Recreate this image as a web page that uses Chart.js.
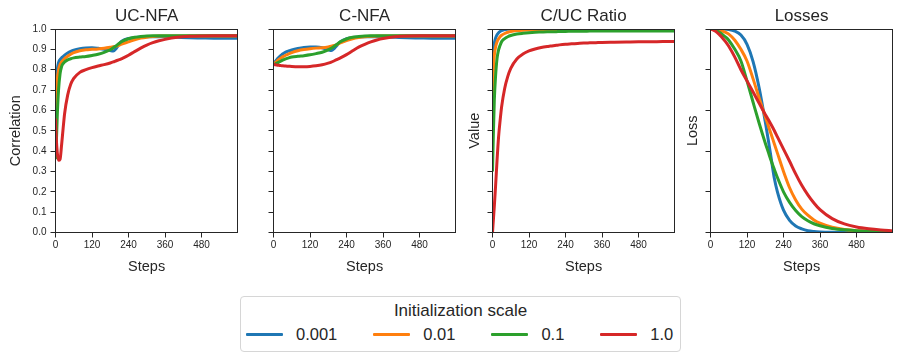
<!DOCTYPE html>
<html>
<head>
<meta charset="utf-8">
<script src="https://cdn.jsdelivr.net/npm/chart.js@4.4.1/dist/chart.umd.min.js"></script>
<style>
  body { margin: 0; background: #fff; width: 902px; height: 361px; position: relative; overflow: hidden;
         font-family: "Liberation Sans", Arial, sans-serif; color: #262626; }
  canvas { position: absolute; top: 0; }
  #legend { position: absolute; left: 240px; top: 296px; width: 441px; height: 56px; box-sizing: border-box;
            border: 1px solid #d6d6d6; border-radius: 4px; font-size: 16.5px; }
  #legend .ttl { position: absolute; left: 0; right: 0; top: 4px; text-align: center; line-height: 20px; font-size: 17px; }
  #legend .row { position: absolute; left: 5px; top: 27px; display: flex; gap: 36px; line-height: 20px; }
  #legend .item { display: flex; align-items: center; gap: 13px; }
  #legend .swatch { width: 37px; height: 3px; border-radius: 1px; }
</style>
</head>
<body>
<canvas id="c1" width="240" height="290" style="left:0px"></canvas>
<canvas id="c2" width="240" height="290" style="left:218px"></canvas>
<canvas id="c3" width="240" height="290" style="left:437px"></canvas>
<canvas id="c4" width="240" height="290" style="left:655px"></canvas>
<div id="legend"><div class="ttl">Initialization scale</div><div class="row" id="legendRow"></div></div>
<script>
// training steps (x values shared by every curve)
const steps = [0, 3, 6, 10, 15, 20, 25, 30, 40, 50, 60, 80, 100, 120, 140, 160, 180, 190, 200, 210,
  220, 240, 260, 280, 300, 320, 340, 360, 400, 440, 480, 520, 560, 599];

const scaleLabels = ['0.001', '0.01', '0.1', '1.0'];
const xTicks = [0, 120, 240, 360, 480];
const corrTicks = [0, 0.1, 0.2, 0.3, 0.4, 0.5, 0.6, 0.7, 0.8, 0.9, 1.0];
const lossTicks = [0, 0.2, 0.4, 0.6, 0.8, 1.0];

// UC-NFA correlation
const ucBlue = [0.40, 0.72, 0.80, 0.835, 0.85, 0.858, 0.865, 0.872, 0.882, 0.89, 0.896, 0.903, 0.907, 0.908, 0.905, 0.900, 0.894, 0.892, 0.905, 0.928,
  0.942, 0.953, 0.958, 0.961, 0.962, 0.962, 0.962, 0.961, 0.959, 0.957, 0.956, 0.955, 0.955, 0.955];
const ucOrange = [0.45, 0.65, 0.75, 0.80, 0.825, 0.838, 0.847, 0.855, 0.866, 0.876, 0.884, 0.893, 0.898, 0.90, 0.902, 0.905, 0.91, 0.913, 0.916, 0.921,
  0.927, 0.937, 0.947, 0.955, 0.96, 0.963, 0.965, 0.966, 0.966, 0.966, 0.966, 0.966, 0.966, 0.966];
const ucGreen = [0.36, 0.45, 0.58, 0.70, 0.78, 0.815, 0.83, 0.838, 0.848, 0.854, 0.858, 0.862, 0.865, 0.87, 0.876, 0.885, 0.898, 0.908, 0.918, 0.93,
  0.94, 0.952, 0.959, 0.963, 0.966, 0.967, 0.967, 0.967, 0.967, 0.967, 0.967, 0.967, 0.967, 0.967];
const ucRed = [0.56, 0.45, 0.39, 0.355, 0.36, 0.43, 0.51, 0.585, 0.675, 0.728, 0.757, 0.787, 0.80, 0.81, 0.818, 0.825, 0.833, 0.838, 0.844, 0.849,
  0.856, 0.871, 0.889, 0.906, 0.921, 0.933, 0.942, 0.949, 0.959, 0.964, 0.966, 0.967, 0.967, 0.967];

// C-NFA correlation
const cBlue = [0.83, 0.835, 0.84, 0.848, 0.857, 0.865, 0.871, 0.877, 0.886, 0.892, 0.897, 0.904, 0.909, 0.911, 0.911, 0.908, 0.898, 0.894, 0.905, 0.922,
  0.938, 0.952, 0.958, 0.961, 0.962, 0.962, 0.962, 0.961, 0.959, 0.957, 0.956, 0.955, 0.955, 0.955];
const cOrange = [0.83, 0.832, 0.835, 0.84, 0.847, 0.853, 0.858, 0.863, 0.871, 0.878, 0.884, 0.893, 0.899, 0.903, 0.906, 0.908, 0.912, 0.915, 0.919, 0.925,
  0.932, 0.943, 0.952, 0.958, 0.962, 0.964, 0.965, 0.966, 0.966, 0.966, 0.966, 0.966, 0.966, 0.966];
const cGreen = [0.825, 0.826, 0.828, 0.831, 0.835, 0.839, 0.843, 0.847, 0.853, 0.858, 0.862, 0.866, 0.869, 0.873, 0.879, 0.886, 0.897, 0.905, 0.915, 0.926,
  0.937, 0.951, 0.959, 0.963, 0.966, 0.967, 0.967, 0.967, 0.967, 0.967, 0.967, 0.967, 0.967, 0.967];
const cRed = [0.826, 0.825, 0.824, 0.823, 0.822, 0.821, 0.82, 0.819, 0.818, 0.817, 0.816, 0.815, 0.815, 0.816, 0.819, 0.824, 0.832, 0.837, 0.844, 0.851,
  0.858, 0.874, 0.893, 0.911, 0.925, 0.937, 0.946, 0.953, 0.962, 0.966, 0.967, 0.967, 0.967, 0.967];

// C/UC ratio
const ratioBlue = [0.80, 0.89, 0.93, 0.955, 0.972, 0.982, 0.988, 0.992, 0.997, 0.999, 1.0, 1.0, 1.0, 1.0, 1.0, 1.0, 1.0, 1.0, 1.0, 1.0,
  1.0, 1.0, 1.0, 1.0, 1.0, 1.0, 1.0, 1.0, 1.0, 1.0, 1.0, 1.0, 1.0, 1.0];
const ratioOrange = [0.60, 0.80, 0.87, 0.91, 0.937, 0.952, 0.962, 0.969, 0.978, 0.984, 0.988, 0.992, 0.994, 0.995, 0.996, 0.996, 0.996, 0.996, 0.996, 0.996,
  0.996, 0.996, 0.996, 0.996, 0.996, 0.996, 0.996, 0.996, 0.996, 0.996, 0.996, 0.996, 0.996, 0.996];
const ratioGreen = [0.30, 0.49, 0.65, 0.766, 0.856, 0.897, 0.92, 0.938, 0.953, 0.962, 0.968, 0.975, 0.979, 0.982, 0.984, 0.985, 0.986, 0.987, 0.987, 0.987,
  0.988, 0.988, 0.989, 0.989, 0.989, 0.99, 0.99, 0.99, 0.99, 0.99, 0.99, 0.99, 0.99, 0.99];
const ratioRed = [0.0, 0.065, 0.13, 0.225, 0.356, 0.47, 0.55, 0.618, 0.708, 0.766, 0.807, 0.853, 0.877, 0.892, 0.902, 0.909, 0.914, 0.916, 0.918, 0.92,
  0.922, 0.925, 0.927, 0.929, 0.931, 0.932, 0.933, 0.934, 0.935, 0.936, 0.937, 0.937, 0.938, 0.938];

// losses
const lossBlue = [1, 1, 1, 1, 1, 1, 1, 1, 1, 0.999, 0.998, 0.99, 0.97, 0.925, 0.84, 0.71, 0.545, 0.455, 0.36, 0.265,
  0.2, 0.11, 0.06, 0.032, 0.018, 0.009, 0.005, 0.003, 0.001, 0, 0, 0, 0, 0];
const lossOrange = [1, 1, 1, 0.999, 0.999, 0.998, 0.996, 0.994, 0.99, 0.983, 0.975, 0.945, 0.9, 0.843, 0.755, 0.66, 0.57, 0.525, 0.48, 0.435,
  0.39, 0.3, 0.22, 0.16, 0.115, 0.085, 0.062, 0.046, 0.026, 0.015, 0.009, 0.006, 0.004, 0.003];
const lossGreen = [1, 1, 0.999, 0.998, 0.996, 0.993, 0.988, 0.983, 0.972, 0.96, 0.945, 0.9, 0.843, 0.745, 0.64, 0.537, 0.44, 0.395, 0.35, 0.31,
  0.27, 0.2, 0.148, 0.108, 0.078, 0.058, 0.043, 0.033, 0.02, 0.013, 0.009, 0.006, 0.004, 0.003];
const lossRed = [1, 0.999, 0.997, 0.994, 0.99, 0.985, 0.978, 0.971, 0.955, 0.937, 0.915, 0.862, 0.80, 0.745, 0.69, 0.635, 0.58, 0.555, 0.528, 0.5,
  0.47, 0.41, 0.35, 0.288, 0.232, 0.185, 0.145, 0.112, 0.068, 0.042, 0.027, 0.018, 0.012, 0.008];

const colors = ['#1f77b4', '#ff7f0e', '#2ca02c', '#d62728'];
const ink = '#262626';

Chart.defaults.font.family = "'Liberation Sans', Arial, sans-serif";
Chart.defaults.color = ink;

// matplotlib-style box around the plot area
const al = p => Math.round(p - 0.5) + 0.5;
const frame = {
  id: 'frame',
  afterDatasetsDraw(chart) {
    const { ctx, chartArea: a } = chart;
    ctx.save();
    ctx.strokeStyle = ink;
    ctx.lineWidth = 1;
    ctx.strokeRect(al(a.left), al(a.top), al(a.right) - al(a.left), al(a.bottom) - al(a.top));
    ctx.restore();
  }
};

function makePanel(id, title, yTitle, yTitlePad, yTicks, showLabels, seriesList) {
  new Chart(document.getElementById(id), {
    type: 'line',
    plugins: [frame],
    data: {
      datasets: seriesList.map((vals, i) => ({
        label: scaleLabels[i],
        data: steps.map((s, k) => ({ x: s, y: vals[k] })),
        borderColor: colors[i],
        borderWidth: 3,
        pointRadius: 0,
        fill: false,
        clip: 0,
        order: seriesList.length - i, // later series drawn on top, like the original
        cubicInterpolationMode: 'monotone'
      }))
    },
    options: {
      responsive: false,
      animation: false,
      events: [],
      layout: { padding: { left: 0, right: 2.3, top: 0, bottom: 0 } },
      plugins: {
        legend: { display: false },
        tooltip: { enabled: false },
        title: {
          display: true, text: title, fullSize: false, color: ink,
          font: { size: 17, weight: 'normal' }, padding: { top: 6, bottom: 2.6 }
        }
      },
      scales: {
        x: {
          type: 'linear', min: 0, max: 599,
          afterBuildTicks: s => { s.ticks = xTicks.map(v => ({ value: v })); },
          afterFit: s => { s.height = 57.5; },
          ticks: { font: { size: 10 }, padding: 2, maxRotation: 0, color: ink },
          grid: { drawOnChartArea: false, tickLength: 5, color: ink },
          border: { color: ink, width: 1 },
          title: { display: true, text: 'Steps', color: ink, font: { size: 14.5 }, padding: { top: 0, bottom: 14.6 } }
        },
        y: {
          type: 'linear', min: 0, max: 1,
          afterBuildTicks: s => { s.ticks = yTicks.map(v => ({ value: v })); },
          afterFit: s => { s.width = 55.5; },
          ticks: { font: { size: 10 }, padding: 4, color: ink, callback: v => showLabels ? v.toFixed(1) : '' },
          grid: { drawOnChartArea: false, tickLength: 5, color: ink },
          border: { color: ink, width: 1 },
          title: { display: yTitle !== '', text: yTitle, color: ink, font: { size: 14.5 }, padding: { top: yTitlePad, bottom: 0 } }
        }
      }
    }
  });
}

makePanel('c1', 'UC-NFA', 'Correlation', 7.5, corrTicks, true, [ucBlue, ucOrange, ucGreen, ucRed]);
makePanel('c2', 'C-NFA', '', 0, corrTicks, false, [cBlue, cOrange, cGreen, cRed]);
makePanel('c3', 'C/UC Ratio', 'Value', 29.5, corrTicks, false, [ratioBlue, ratioOrange, ratioGreen, ratioRed]);
makePanel('c4', 'Losses', 'Loss', 29.5, lossTicks, false, [lossBlue, lossOrange, lossGreen, lossRed]);

// shared legend below the panels
const row = document.getElementById('legendRow');
scaleLabels.forEach((lab, i) => {
  const item = document.createElement('div');
  item.className = 'item';
  item.innerHTML = '<span class="swatch" style="background:' + colors[i] + '"></span><span>' + lab + '</span>';
  row.appendChild(item);
});
</script>
</body>
</html>
